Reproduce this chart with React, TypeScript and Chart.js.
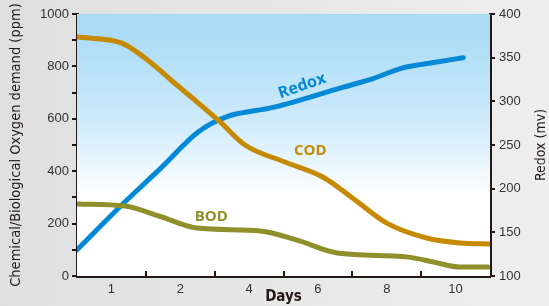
import { useEffect, useRef } from "react";
import { Chart, registerables } from "chart.js";

Chart.register(...registerables);

// Day labels shown under the x axis (one per band)
const dayLabels = ["1", "2", "4", "6", "8", "10"];

// Positions along the x axis in band units (0..6; band centres at 0.5, 1.5, ...)
const codX = [0, 0.65, 1.06, 1.45, 1.71, 2.08, 2.44, 3.02, 3.57, 4.04, 4.5, 5.08, 5.56, 6];
const codValues = [912, 889, 817, 729, 672, 588, 500, 435, 378, 290, 202, 145, 126, 122];

const bodX = [0, 0.7, 1.2, 1.74, 2.66, 3.2, 3.78, 4.79, 5.2, 5.56, 5.97];
const bodValues = [275, 267, 228, 183, 172, 137, 88, 73, 52, 34, 34];

const redoxX = [0, 0.62, 1.21, 1.76, 2.16, 2.85, 3.86, 4.3, 4.72, 5.23, 5.61];
const redoxValues = [130, 179, 223, 265, 282, 293, 316, 326, 338, 345, 350];

// In-chart series labels: text, x (band units), y (left axis ppm), rotation deg
const seriesLabelText = ["Redox", "COD", "BOD"];
const seriesLabelX = [3.27, 3.39, 1.95];
const seriesLabelY = [725, 477, 225];
const seriesLabelRot = [-19, 0, 0];

const codColor = "#c68a00";
const bodColor = "#8f8f2b";
const redoxColor = "#0589d6";
const inkColor = "#231815";
const tickFont = "'Liberation Sans', Arial, sans-serif";
const titleFont = "'DejaVu Sans Condensed', 'Liberation Sans Narrow', 'Open Sans', sans-serif";

const decorPlugin = {
  id: "decor",
  beforeDatasetsDraw(chart: any) {
    const { ctx, chartArea } = chart;
    const { left, top, right, bottom } = chartArea;
    const g = ctx.createLinearGradient(0, top, 0, bottom);
    g.addColorStop(0, "#a9dbf5");
    g.addColorStop(0.08, "#abdcf5");
    g.addColorStop(0.4, "#cdeafa");
    g.addColorStop(0.7, "#ffffff");
    g.addColorStop(1, "#ffffff");
    ctx.save();
    ctx.fillStyle = g;
    ctx.fillRect(left, top, right - left, bottom - top);
    ctx.restore();
  },
  afterDraw(chart: any) {
    const { ctx, chartArea, scales } = chart;
    const xs = scales.x;
    ctx.save();
    // inward tick marks at band boundaries
    ctx.strokeStyle = inkColor;
    ctx.lineWidth = 2;
    for (let i = 1; i < dayLabels.length; i++) {
      const px = (xs.getPixelForTick(i - 1) + xs.getPixelForTick(i)) / 2;
      ctx.beginPath();
      ctx.moveTo(Math.round(px), chartArea.bottom);
      ctx.lineTo(Math.round(px), chartArea.bottom - 5);
      ctx.stroke();
    }
    // right axis title (reads bottom to top)
    ctx.fillStyle = inkColor;
    ctx.font = `14px ${titleFont}`;
    ctx.textAlign = "center";
    ctx.textBaseline = "middle";
    ctx.translate(541, (chartArea.top + chartArea.bottom) / 2);
    ctx.rotate(-Math.PI / 2);
    ctx.fillText("Redox (mv)", 0, 0);
    ctx.setTransform(1, 0, 0, 1, 0, 0);
    // series labels
    const colors = [redoxColor, codColor, bodColor];
    const sizes = [16, 15, 15];
    for (let i = 0; i < seriesLabelText.length; i++) {
      const px = scales.xl.getPixelForValue(seriesLabelX[i]);
      const py = scales.y.getPixelForValue(seriesLabelY[i]);
      ctx.save();
      ctx.translate(px, py);
      ctx.rotate((seriesLabelRot[i] * Math.PI) / 180);
      ctx.fillStyle = colors[i];
      ctx.font = `bold ${sizes[i]}px 'Open Sans', 'DejaVu Sans', sans-serif`;
      ctx.textAlign = "center";
      ctx.textBaseline = "middle";
      ctx.fillText(seriesLabelText[i], 0, 0);
      ctx.restore();
    }
    ctx.restore();
  },
};

export default function App() {
  const ref = useRef<HTMLCanvasElement | null>(null);
  useEffect(() => {
    if (!ref.current) return;
    const toPts = (xs: number[], ys: number[]) => xs.map((x, i) => ({ x, y: ys[i] }));
    const lineStyle = {
      borderWidth: 5,
      pointRadius: 0,
      fill: false,
      cubicInterpolationMode: "monotone" as const,
      xAxisID: "xl",
      borderCapStyle: "round" as const,
      borderJoinStyle: "round" as const,
    };
    const chart = new Chart(ref.current, {
      type: "line",
      data: {
        labels: dayLabels,
        datasets: [
          { label: "BOD", data: toPts(bodX, bodValues), borderColor: bodColor, yAxisID: "y", ...lineStyle },
          { label: "COD", data: toPts(codX, codValues), borderColor: codColor, yAxisID: "y", ...lineStyle },
          { label: "Redox", data: toPts(redoxX, redoxValues), borderColor: redoxColor, yAxisID: "y1", ...lineStyle },
        ],
      },
      options: {
        animation: false,
        responsive: false,
        maintainAspectRatio: false,
        layout: { padding: { top: 14, left: 0, right: 0, bottom: 0 } },
        plugins: { legend: { display: false }, tooltip: { enabled: false } },
        scales: {
          x: {
            type: "category",
            position: "bottom",
            offset: true,
            grid: { display: true, drawOnChartArea: false, drawTicks: false, offset: true, color: "rgba(0,0,0,0)" },
            border: { display: true, color: inkColor, width: 3 },
            ticks: { color: "#333", font: { size: 13, family: tickFont }, padding: 6, maxRotation: 0 },
            title: { display: true, text: "Days", color: inkColor, font: { size: 15, weight: "bold", family: titleFont }, padding: 0 },
            afterFit(s: any) { s.height = 30; },
          },
          xl: {
            type: "linear",
            display: false,
            min: 0,
            max: 6,
          },
          y: {
            type: "linear",
            position: "left",
            min: 0,
            max: 1000,
            ticks: {
              stepSize: 100,
              color: "#333",
              font: { size: 13, family: tickFont },
              padding: 3,
              callback: (v: any) => (Number(v) % 200 === 0 ? String(v) : ""),
            },
            grid: { drawOnChartArea: false, drawTicks: true, tickLength: 5, color: inkColor, lineWidth: 2 },
            border: { display: true, color: inkColor, width: 3 },
            title: { display: true, text: "Chemical/Biological Oxygen demand (ppm)", color: inkColor, font: { size: 14.5, family: titleFont }, padding: { top: 8, bottom: 0 } },
            afterFit(s: any) { s.width = 77; },
          },
          y1: {
            type: "linear",
            position: "right",
            min: 100,
            max: 400,
            ticks: { stepSize: 50, color: "#333", font: { size: 13, family: tickFont }, padding: 4 },
            grid: { drawOnChartArea: false, drawTicks: true, tickLength: 5, color: inkColor, lineWidth: 2 },
            border: { display: true, color: inkColor, width: 3 },
            afterFit(s: any) { s.width = 59; },
          },
        },
      },
      plugins: [decorPlugin],
    });
    return () => chart.destroy();
  }, []);
  return (
    <div
      style={{
        position: "fixed",
        left: 0,
        top: 0,
        width: 549,
        height: 306,
        background: "linear-gradient(to right, #dfdfdf 0%, #e4e4e4 30%, #e9e9e9 60%, #eeeeee 100%)",
      }}
    >
      <canvas ref={ref} width={549} height={306} style={{ display: "block" }} />
    </div>
  );
}
